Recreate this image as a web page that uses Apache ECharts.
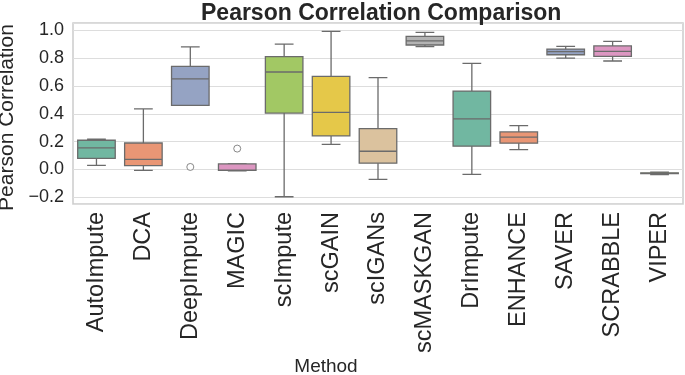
<!DOCTYPE html>
<html>
<head>
<meta charset="utf-8">
<script src="https://cdn.jsdelivr.net/npm/echarts@6/dist/echarts.min.js"></script>
<style>
  html, body { margin: 0; padding: 0; background: #fff; }
  #chart { width: 685px; height: 375px; }
</style>
</head>
<body>
<div id="chart"></div>
<script>
// methods on the x axis
const methods = ['AutoImpute', 'DCA', 'DeepImpute', 'MAGIC', 'scImpute', 'scGAIN', 'scIGANs',
  'scMASKGAN', 'DrImpute', 'ENHANCE', 'SAVER', 'SCRABBLE', 'VIPER']

// box statistics
const whiskerLow  = [0.030, -0.006, 0.460, -0.010, -0.196, 0.180, -0.071, 0.882, -0.035, 0.143, 0.800, 0.779, -0.036]
const q1          = [0.080,  0.027, 0.460, -0.006,  0.405, 0.241,  0.045, 0.894,  0.167, 0.189, 0.824, 0.812, -0.030]
const median      = [0.155,  0.073, 0.650, -0.004,  0.700, 0.410,  0.131, 0.923,  0.364, 0.232, 0.846, 0.848, -0.027]
const q3          = [0.210,  0.190, 0.740,  0.040,  0.810, 0.668,  0.294, 0.956,  0.563, 0.270, 0.865, 0.887, -0.024]
const whiskerHigh = [0.217,  0.435, 0.880,  0.040,  0.900, 0.992,  0.660, 0.985,  0.762, 0.315, 0.884, 0.920, -0.019]

// fliers
const outlierMethod = ['DeepImpute', 'MAGIC']
const outlierValue  = [0.018, 0.150]

// Set2, desaturated like seaborn boxes
const palette = ['#71b7a1', '#e99675', '#95a3c3', '#dc96c1', '#a2c864', '#e5c849', '#dbc29e', '#b3b3b3']
const lineColor = '#6b6b6b'
const textColor = '#262626'
const font = 'Liberation Sans, Arial, sans-serif'

const chart = echarts.init(document.getElementById('chart'))

// boxes: whiskers collapsed onto the box edges
const boxData = methods.map((m, i) => ({
  value: [q1[i], q1[i], median[i], q3[i], q3[i]],
  itemStyle: { color: palette[i % palette.length] }
}))

// whiskers with half-width caps, drawn underneath the boxes
const whiskerData = methods.map((m, i) => [whiskerLow[i], median[i], median[i], median[i], whiskerHigh[i]])

const outlierData = outlierMethod.map((m, i) => [m, outlierValue[i]])

const xBase = {
  type: 'category',
  data: methods,
  boundaryGap: true,
  axisLine: { show: false },
  axisTick: { show: false },
  splitLine: { show: false }
}

const option = {
  animation: false,
  backgroundColor: '#fff',
  title: {
    text: 'Pearson Correlation Comparison',
    left: 196,
    top: -3,
    textStyle: { fontFamily: font, fontSize: 23, fontWeight: 'bold', color: textColor }
  },
  grid: {
    left: 73, right: 2, top: 23, bottom: 171,
    outerBoundsMode: 'none',
    containLabel: false,
    show: true, borderColor: '#cccccc', borderWidth: 1.5, backgroundColor: 'transparent'
  },
  xAxis: [
    Object.assign({}, xBase, {
      name: 'Method',
      nameLocation: 'middle',
      nameGap: 147,
      nameTextStyle: { fontFamily: font, fontSize: 19, color: textColor, padding: [0, 104, 0, 0] },
      axisLabel: { rotate: 90, fontFamily: font, fontSize: 23.5, color: textColor, margin: 8 }
    }),
    Object.assign({}, xBase, { show: false })
  ],
  yAxis: {
    type: 'value',
    min: -0.248,
    max: 1.052,
    splitNumber: 6,
    name: 'Pearson Correlation',
    nameLocation: 'middle',
    nameGap: 50,
    nameTextStyle: { fontFamily: font, fontSize: 21, color: textColor, padding: [0, 8, 0, 0] },
    axisLine: { show: false },
    axisTick: { show: false },
    splitLine: { lineStyle: { color: '#dddddd', width: 1 } },
    axisLabel: {
      fontFamily: font, fontSize: 18, color: textColor, margin: 9,
      showMinLabel: false, showMaxLabel: false,
      formatter: v => v.toFixed(1).replace('-', '\u2212')
    }
  },
  series: [
    {
      type: 'boxplot',
      xAxisIndex: 1,
      z: 2,
      boxWidth: ['40%', '40%'],
      data: whiskerData,
      itemStyle: { color: 'transparent', borderColor: lineColor, borderWidth: 1.3 }
    },
    {
      type: 'boxplot',
      xAxisIndex: 0,
      z: 3,
      boxWidth: ['80%', '80%'],
      data: boxData,
      itemStyle: { borderColor: lineColor, borderWidth: 1.3 }
    },
    {
      type: 'scatter',
      xAxisIndex: 0,
      z: 4,
      symbol: 'circle',
      symbolSize: 7,
      data: outlierData,
      itemStyle: { color: '#ffffff', borderColor: lineColor, borderWidth: 1 }
    }
  ]
}

chart.setOption(option)
</script>
</body>
</html>
